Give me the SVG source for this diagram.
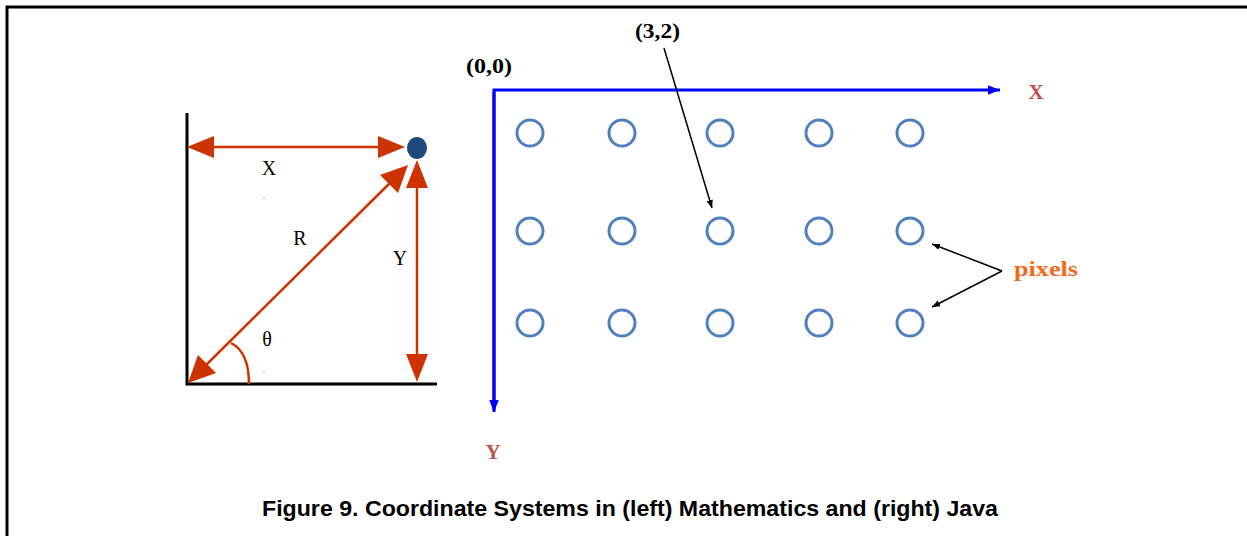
<svg xmlns="http://www.w3.org/2000/svg" width="1247" height="536" viewBox="0 0 1247 536">
<defs>
<style>
.frame{fill:none;stroke:#000;stroke-width:3}
.axk{stroke:#000;stroke-width:3;fill:none}
.red{stroke:#CC3300;stroke-width:2.5;fill:none}
.redfill{fill:#CC3300}
.blue{stroke:#0000FF;stroke-width:3;fill:none}
.px{fill:none;stroke:#4F81BD;stroke-width:3}
.ptr{stroke:#000;stroke-width:1.5;fill:none}
.lbl{font-family:"Liberation Serif","DejaVu Serif",serif;font-size:20px;fill:#000}
.blbl{font-family:"Liberation Serif","DejaVu Serif",serif;font-size:21px;font-weight:bold;fill:#000}
.axl{font-family:"Liberation Serif","DejaVu Serif",serif;font-size:21px;font-weight:bold;fill:#C0504D}
.pix{font-family:"Liberation Serif","DejaVu Serif",serif;font-size:21px;font-weight:bold;fill:#F26B1D}
.cap{font-family:"Liberation Sans","Arial",sans-serif;font-size:22px;font-weight:bold;fill:#000}
</style>
<marker id="ah" viewBox="0 0 10 10" refX="10" refY="5" markerWidth="8" markerHeight="8" markerUnits="userSpaceOnUse" orient="auto"><path d="M0,1 L10,5 L0,9 z" fill="#000"/></marker>
<marker id="ab" viewBox="0 0 10 10" refX="10" refY="5" markerWidth="12" markerHeight="12" markerUnits="userSpaceOnUse" orient="auto"><path d="M0,1 L10,5 L0,9 z" fill="#0000FF"/></marker>
</defs>
<path class="frame" d="M7,537 L7,7 L1247,7"/>

<g id="math-axes">
<path class="axk" d="M187,113 L187,384 L437,384"/>
</g>
<g id="point"><ellipse cx="417" cy="148" rx="10" ry="11" fill="#1F497D"/></g>

<g id="connectors">
<line class="red" x1="205" y1="147" x2="390" y2="147"/>
<polygon class="redfill" points="187,147 214,136 214,158"/>
<polygon class="redfill" points="405,147 378,136 378,158"/>
<line class="red" x1="417" y1="180" x2="417" y2="360"/>
<polygon class="redfill" points="417,160 406,188 428,188"/>
<polygon class="redfill" points="417,382 406,354 428,354"/>
<line class="red" x1="200" y1="371" x2="396" y2="177"/>
<polygon class="redfill" points="188,383 198,355 216,373"/>
<polygon class="redfill" points="408,165 398,193 380,175"/>
<path class="red" d="M231,343 C245,350 249,365 249,384"/>
<path class="blue" d="M494,410 L494,90 L1000,90" marker-end="url(#ab)"/>
<line class="blue" x1="494" y1="92" x2="494" y2="412" marker-end="url(#ab)"/>
<line class="ptr" x1="664" y1="48" x2="712" y2="208" marker-end="url(#ah)"/>
<line class="ptr" x1="1002" y1="271" x2="932" y2="244" marker-end="url(#ah)"/>
<line class="ptr" x1="1002" y1="271" x2="932" y2="307" marker-end="url(#ah)"/>
</g>

<g id="math-labels">
<text class="lbl" x="269" y="175" text-anchor="middle">X</text>
<text class="lbl" x="300" y="245" text-anchor="middle">R</text>
<text class="lbl" x="400" y="265" text-anchor="middle">Y</text>
<text class="lbl" x="267" y="346" text-anchor="middle">θ</text>
<circle cx="264" cy="198" r="0.6" fill="#555"/>
<circle cx="264" cy="372" r="0.6" fill="#555"/>
</g>

<g id="pixels">
<circle class="px" cx="530" cy="133" r="13"/>
<circle class="px" cx="622" cy="133" r="13"/>
<circle class="px" cx="720" cy="133" r="13"/>
<circle class="px" cx="819" cy="133" r="13"/>
<circle class="px" cx="910" cy="133" r="13"/>
<circle class="px" cx="530" cy="231" r="13"/>
<circle class="px" cx="622" cy="231" r="13"/>
<circle class="px" cx="720" cy="231" r="13"/>
<circle class="px" cx="819" cy="231" r="13"/>
<circle class="px" cx="910" cy="231" r="13"/>
<circle class="px" cx="530" cy="323" r="13"/>
<circle class="px" cx="622" cy="323" r="13"/>
<circle class="px" cx="720" cy="323" r="13"/>
<circle class="px" cx="819" cy="323" r="13"/>
<circle class="px" cx="910" cy="323" r="13"/>
</g>

<g id="java-labels">
<text class="blbl" x="466" y="73" textLength="46" lengthAdjust="spacingAndGlyphs">(0,0)</text>
<text class="blbl" x="635" y="38" textLength="45" lengthAdjust="spacingAndGlyphs">(3,2)</text>
<text class="axl" x="1036" y="99" text-anchor="middle">X</text>
<text class="axl" x="493" y="459" text-anchor="middle">Y</text>
<text class="pix" x="1014" y="276" textLength="64" lengthAdjust="spacingAndGlyphs">pixels</text>
</g>

<g id="caption">
<text class="cap" x="262" y="516" textLength="736" lengthAdjust="spacingAndGlyphs">Figure 9. Coordinate Systems in (left) Mathematics and (right) Java</text>
</g>
</svg>
